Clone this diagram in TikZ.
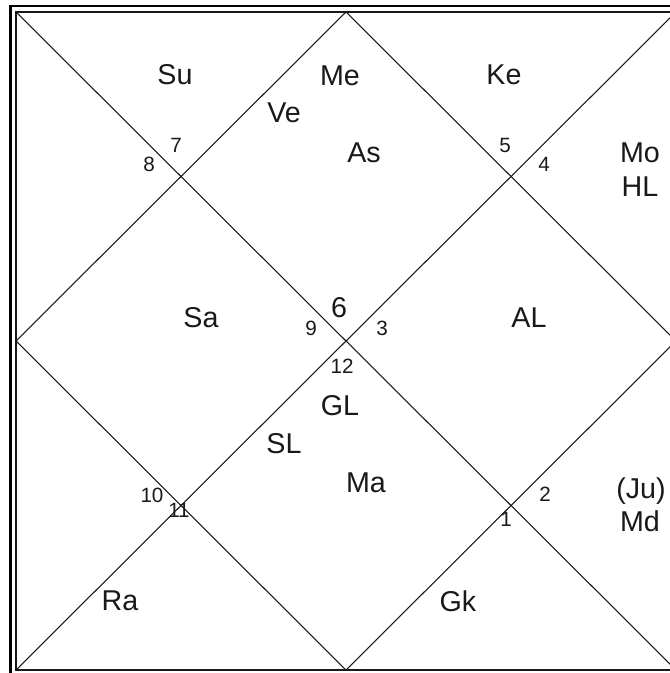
\documentclass[tikz,border=0pt]{standalone}
\usepackage{fontspec}
\setmainfont{Liberation Sans}
\begin{document}
\begin{tikzpicture}[x=0.75pt,y=-0.75pt,
	pl/.style={anchor=base,inner sep=0pt,text=black!90,font=\fontsize{21.5}{24}\selectfont},
	num/.style={anchor=base,inner sep=0pt,text=black!90,font=\fontsize{15.5}{18}\selectfont},
	ln/.style={draw=black!90,line width=0.8pt}]
	\useasboundingbox (0,0) rectangle (669,673);
	% frame
	\draw[line width=2.2pt] (10.5,6) rectangle (684,678);
	\coordinate (tl) at (16,12);
	\coordinate (tr) at (676,12);
	\coordinate (br) at (676,670);
	\coordinate (bl) at (16,670);
	\coordinate (t) at (346,12);
	\coordinate (r) at (676,341);
	\coordinate (b) at (346,670);
	\coordinate (l) at (16,341);
	\draw[ln,line width=1pt] (tl) rectangle (br);
	\draw[ln] (tl) -- (br);
	\draw[ln] (tr) -- (bl);
	\draw[ln] (t) -- (r) -- (b) -- (l) -- cycle;
	% planets
	\node[pl] (su) at (175,85) {Su};
	\node[pl] (me) at (340,86) {Me};
	\node[pl] (ke) at (504,85) {Ke};
	\node[pl] (ve) at (284,123) {Ve};
	\node[pl] (as) at (364,163) {As};
	\node[pl] (mo) at (640,163) {Mo};
	\node[pl] (hl) at (640,197) {HL};
	\node[pl] (sa) at (201,327) {Sa};
	\node[pl] (al) at (529,327) {AL};
	\node[pl] (gl) at (340,415) {GL};
	\node[pl] (sl) at (284,453) {SL};
	\node[pl] (ma) at (366,492) {Ma};
	\node[pl] (ju) at (641,498) {(Ju)};
	\node[pl] (md) at (640,531) {Md};
	\node[pl] (ra) at (120,610) {Ra};
	\node[pl] (gk) at (458,611) {Gk};
	% house numbers
	\node[pl] (h6) at (339,317) {6};
	\foreach \s/\p in {7/{176,153},8/{149,172},5/{505,153},4/{544,172},9/{311,335},3/{382,335},
		12/{342,373},10/{152,502},11/{179,517},2/{545,501},1/{506,526}}
		\node[num] (h\s) at (\p) {\s};
\end{tikzpicture}
\end{document}
